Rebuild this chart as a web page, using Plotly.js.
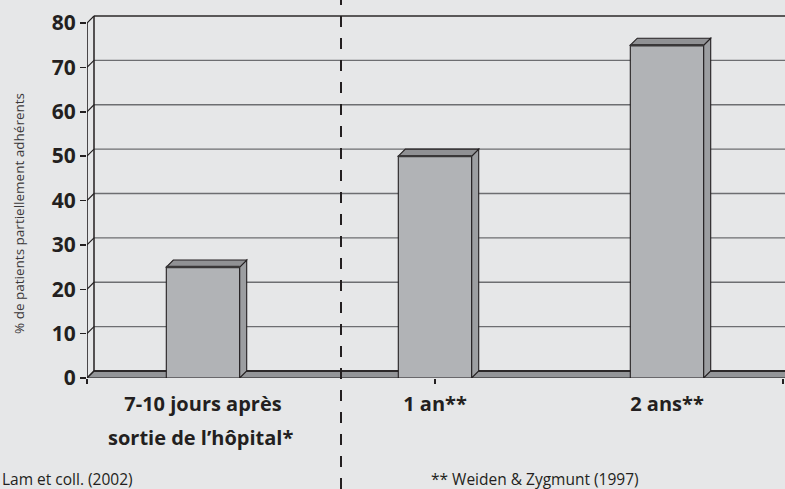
<!DOCTYPE html>
<html>
<head>
<meta charset="utf-8">
<script src="https://cdn.plot.ly/plotly-3.0.1.min.js"></script>
<style>
  html, body { margin: 0; padding: 0; background: #e6e7e8; }
  #chart { width: 785px; height: 489px; }
</style>
</head>
<body>
<div id="chart"></div>
<script>
// ---- data ----
const categories = ['7-10 jours après', '1 an**', '2 ans**'];
const secondLines = ['sortie de l\u2019hôpital*', '', ''];
const values = [25, 50, 75];
const yTicks = [0, 10, 20, 30, 40, 50, 60, 70, 80];
const yTitle = '% de patients partiellement adhérents';
const footnotes = ['Lam et coll. (2002)', '** Weiden & Zygmunt (1997)'];

// ---- geometry (pixel based, converted to data units) ----
const ML = 87, MR = 0, MT = 15, MB = 111;
const plotW = 785 - ML - MR;     // 698
const plotH = 489 - MT - MB;     // 363
const catPx = 232;               // pixels per category
const unitPx = 355 / 80;         // pixels per y unit (front scale)
const XMIN = -0.5;
const XMAX = XMIN + plotW / catPx;
const YMAX = plotH / unitPx;
const DEPTH = 7;                 // 3D depth in pixels
const DX = DEPTH / catPx;
const DY = DEPTH / unitPx;
const BW = 73.4 / catPx;         // bar width in category units

const ink = '#231f20';
const FONT = 'Open Sans, sans-serif';
const xIdx = categories.map((c, i) => i);

const shapes = [];
// floor
shapes.push({
  type: 'path', xref: 'x', yref: 'y', layer: 'below',
  path: `M${XMIN},0 L${XMIN + DX},${DY} L${XMAX + 1},${DY} L${XMAX + 1},0 Z`,
  fillcolor: '#939598', line: { color: '#414042', width: 1.3 }
});
// back wall grid lines + side-wall diagonals
yTicks.forEach(v => {
  shapes.push({
    type: 'line', xref: 'x', yref: 'y', layer: 'below',
    x0: XMIN + DX, x1: XMAX, y0: v + DY, y1: v + DY,
    line: { color: v === 80 || v === 0 ? '#2b2829' : '#6d6e71', width: v === 0 ? 2.2 : (v === 80 ? 1.6 : 1.3) }
  });
  shapes.push({
    type: 'line', xref: 'x', yref: 'y', layer: 'below',
    x0: XMIN, x1: XMIN + DX, y0: v, y1: v + DY,
    line: { color: ink, width: 1.1 }
  });
});
// back wall left edge and front axis line
shapes.push({
  type: 'line', xref: 'x', yref: 'y', layer: 'below',
  x0: XMIN + DX, x1: XMIN + DX, y0: DY, y1: yTicks[yTicks.length - 1] + DY,
  line: { color: ink, width: 1.5 }
});
shapes.push({
  type: 'line', xref: 'x', yref: 'y', layer: 'above',
  x0: XMIN, x1: XMIN, y0: 0, y1: yTicks[yTicks.length - 1],
  line: { color: ink, width: 1.6 }
});
// 3D faces of the bars
values.forEach((v, i) => {
  const l = i - BW / 2, r = i + BW / 2;
  shapes.push({
    type: 'path', xref: 'x', yref: 'y', layer: 'above',
    path: `M${r},0 L${r},${v} L${r + DX},${v + DY} L${r + DX},${DY} Z`,
    fillcolor: '#9c9ea1', line: { color: ink, width: 1.1 }
  });
  shapes.push({
    type: 'path', xref: 'x', yref: 'y', layer: 'above',
    path: `M${l},${v} L${l + DX},${v + DY} L${r + DX},${v + DY} L${r},${v} Z`,
    fillcolor: '#909194', line: { color: ink, width: 1.1 }
  });
  shapes.push({
    type: 'line', xref: 'x', yref: 'y', layer: 'above',
    x0: l, x1: r, y0: v, y1: v,
    line: { color: '#3a3839', width: 2.4 }
  });
});
// dashed separator
shapes.push({
  type: 'line', xref: 'paper', yref: 'paper', layer: 'above',
  x0: (341 - ML) / plotW, x1: (341 - ML) / plotW,
  y0: -MB / plotH, y1: 1 + MT / plotH,
  line: { color: ink, width: 2, dash: '11px,11px' }
});

const annotations = [];
secondLines.forEach((t, i) => {
  if (!t) return;
  annotations.push({
    text: t, xref: 'x', yref: 'paper', x: i, y: (378 - 438) / plotH,
    xanchor: 'center', yanchor: 'middle', showarrow: false, xshift: -3,
    font: { family: FONT, size: 20, color: ink, weight: 700 }
  });
});
annotations.push({
  text: yTitle, textangle: -90, xref: 'paper', yref: 'paper',
  x: (19 - ML) / plotW, y: (378 - 214) / plotH, xanchor: 'center', yanchor: 'middle',
  showarrow: false, font: { family: FONT, size: 13.5, color: '#3a3839' }
});
annotations.push({
  text: footnotes[0], xref: 'paper', yref: 'paper',
  x: (0 - ML) / plotW, y: (378 - 479) / plotH, xanchor: 'left', yanchor: 'middle',
  showarrow: false, font: { family: FONT, size: 15.5, color: ink }
});
annotations.push({
  text: footnotes[1], xref: 'paper', yref: 'paper',
  x: (535 - ML) / plotW, y: (378 - 479) / plotH, xanchor: 'center', yanchor: 'middle',
  showarrow: false, font: { family: FONT, size: 15.5, color: ink }
});

const data = [
  {
    type: 'bar', x: xIdx, y: values, width: BW,
    marker: { color: '#b1b3b6', line: { color: ink, width: 1.1 } },
    hoverinfo: 'skip', showlegend: false
  },
  {
    type: 'scatter', x: [XMIN], y: [0], xaxis: 'x2', yaxis: 'y',
    mode: 'markers', marker: { opacity: 0 }, hoverinfo: 'skip', showlegend: false
  }
];

const layout = {
  width: 785, height: 489,
  margin: { l: ML, r: MR, t: MT, b: MB, pad: 0 },
  paper_bgcolor: '#e6e7e8', plot_bgcolor: '#e6e7e8',
  showlegend: false,
  xaxis: {
    range: [XMIN, XMAX], tickvals: xIdx, ticktext: categories, ticks: '',
    showgrid: false, zeroline: false, showline: false, fixedrange: true,
    ticklabelstandoff: 12,
    tickfont: { family: FONT, size: 20, color: ink, weight: 700 }
  },
  xaxis2: {
    overlaying: 'x', side: 'bottom', range: [XMIN, XMAX],
    tickvals: [XMIN, 1, 2.5], ticks: 'outside', ticklen: 5, tickwidth: 1.5, tickcolor: ink,
    showticklabels: false, showgrid: false, zeroline: false, showline: false
  },
  yaxis: {
    range: [0, YMAX], tickvals: yTicks, ticks: 'outside', ticklen: 6, tickwidth: 1.5, tickcolor: ink,
    showgrid: false, zeroline: false, showline: false, fixedrange: true,
    tickfont: { family: FONT, size: 21, color: ink, weight: 700 }
  },
  shapes: shapes,
  annotations: annotations
};

Plotly.newPlot('chart', data, layout, { staticPlot: true, displayModeBar: false });
</script>
</body>
</html>
